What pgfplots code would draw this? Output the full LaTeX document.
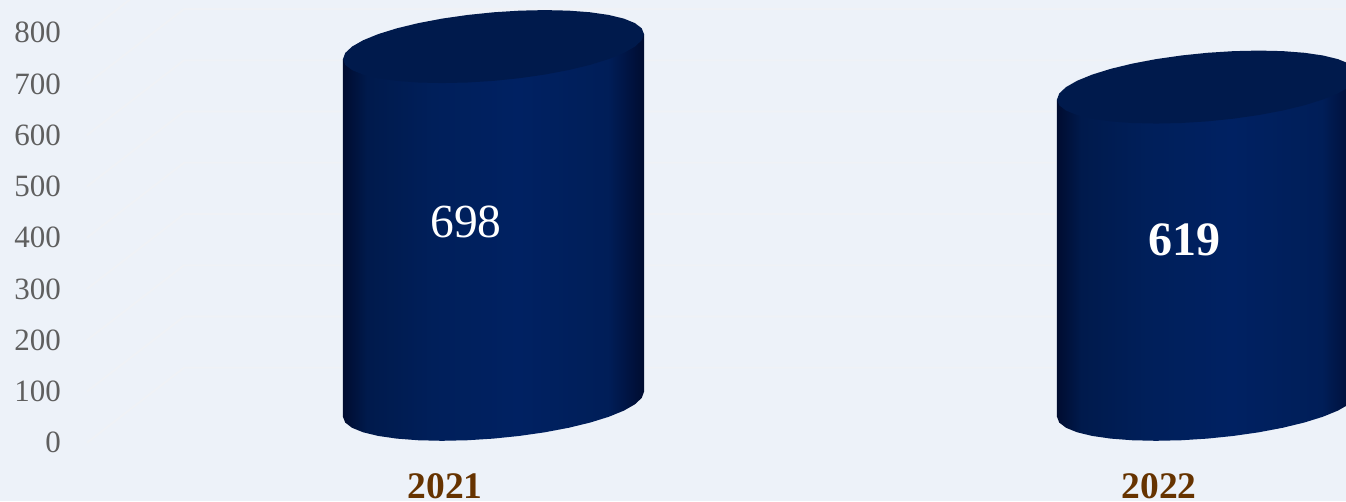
\documentclass[border=0pt]{standalone}
\usepackage{fontspec}
\setmainfont{Liberation Serif}
\usepackage{pgfplots}
\usepackage{pgfplotstable}
\pgfplotsset{compat=1.18}

\definecolor{bg}{HTML}{EDF2F9}
\definecolor{gridc}{HTML}{F0F2F6}
\definecolor{tickc}{HTML}{5F5F5F}
\definecolor{yearc}{HTML}{663300}
\definecolor{capc}{HTML}{001A4C}
\definecolor{s0}{HTML}{000C30}
\definecolor{s1}{HTML}{001A4C}
\definecolor{s2}{HTML}{001F5A}
\definecolor{s3}{HTML}{002162}
\definecolor{s4}{HTML}{001E58}
\definecolor{s5}{HTML}{00123E}

% 25bp..75bp span the width of the shaded path
\pgfdeclarehorizontalshading{cyl}{100bp}{
  color(0bp)=(s0); color(25bp)=(s0); color(29bp)=(s1); color(40bp)=(s2);
  color(54bp)=(s3); color(69bp)=(s4); color(73bp)=(s5); color(75bp)=(s0);
  color(100bp)=(s0)}

% side of a cylinder: lower half of the base rim, then the top chord
% dy is relative to the left corner, h=1 for points at the top
\pgfplotstableread{
dx dy h
-0.1429 0 0
-0.1397 -11.24 0
-0.1302 -21.41 0
-0.1147 -30.18 0
-0.0936 -37.29 0
-0.0676 -42.53 0
-0.0375 -45.74 0
-0.0042 -46.81 0
0.0313 -45.72 0
0.0679 -42.50 0
0.1045 -37.24 0
0.1400 -30.13 0
0.1733 -21.34 0
0.2034 -11.17 0
0.2294 0.09 0
0.2505 12.08 0
0.2660 24.45 0
0.2755 36.82 0
0.2787 48.80 0
0.2787 48.80 1
-0.1429 0 1
-0.1429 0 0
}\sidetable

% top cap
\pgfplotstableread{
dx dy
0.2787 48.80
0.2755 60.04
0.2660 70.21
0.2505 78.98
0.2294 86.09
0.2034 91.33
0.1733 94.54
0.1400 95.61
0.1045 94.52
0.0679 91.30
0.0313 86.04
-0.0042 78.93
-0.0375 70.14
-0.0676 59.97
-0.0936 48.71
-0.1147 36.72
-0.1302 24.35
-0.1397 11.98
-0.1429 0
-0.1397 -11.24
-0.1302 -21.41
-0.1147 -30.18
-0.0936 -37.29
-0.0676 -42.53
-0.0375 -45.74
-0.0042 -46.81
0.0313 -45.72
0.0679 -42.50
0.1045 -37.24
0.1400 -30.13
0.1733 -21.34
0.2034 -11.17
0.2294 0.09
0.2505 12.08
0.2660 24.45
0.2755 36.82
0.2787 48.80
}\captable

\begin{document}
\begin{tikzpicture}[x=1pt,y=1pt]
\path[use as bounding box] (0,0) rectangle (1346,501);
\fill[bg] (0,0) rectangle (1346,501);
\begin{axis}[
    at={(0pt,0pt)},
    anchor=south west,
    scale only axis,
    width=1346pt,
    height=501pt,
    xmin=-0.62325, xmax=1.26190,
    ymin=-113.76, ymax=863.8,
    axis line style={draw=none},
    tick style={draw=none},
    major tick length=0pt,
    no markers,
    xtick={0,1},
    xticklabels={2021,2022},
    ytick={0,100,200,300,400,500,600,700,800},
    /pgf/number format/assume math mode=true,
    yticklabel style={anchor=east, xshift=61pt, inner sep=0pt, text=tickc,
        font=\fontsize{31}{36}\selectfont},
    xticklabel style={anchor=base, yshift=3pt, inner sep=0pt, text=yearc,
        font=\fontsize{37.5}{42}\selectfont\bfseries},
]
% faint walls of the 3D frame
\addplot[gridc, line width=1.8pt] coordinates {(-0.5014,0) (-0.3655,146.3) (1.2619,146.3)};
\addplot[gridc, line width=1.8pt] coordinates {(-0.5014,100) (-0.3655,246.3) (1.2619,246.3)};
\addplot[gridc, line width=1.8pt] coordinates {(-0.5014,200) (-0.3655,346.3) (1.2619,346.3)};
\addplot[gridc, line width=1.8pt] coordinates {(-0.5014,300) (-0.3655,446.3) (1.2619,446.3)};
\addplot[gridc, line width=1.8pt] coordinates {(-0.5014,400) (-0.3655,546.3) (1.2619,546.3)};
\addplot[gridc, line width=1.8pt] coordinates {(-0.5014,500) (-0.3655,646.3) (1.2619,646.3)};
\addplot[gridc, line width=1.8pt] coordinates {(-0.5014,600) (-0.3655,746.3) (1.2619,746.3)};
\addplot[gridc, line width=1.8pt] coordinates {(-0.5014,700) (-0.3655,846.3) (1.2619,846.3)};
\addplot[gridc, line width=1.8pt] coordinates {(-0.5014,800) (-0.3655,946.3) (1.2619,946.3)};

% 2021: 698
\addplot[draw=none, shade, shading=cyl] table[x expr=\thisrow{dx}+0, y expr=\thisrow{dy}+50.5+\thisrow{h}*698] {\sidetable};
\addplot[draw=none, fill=capc] table[x expr=\thisrow{dx}+0, y expr=\thisrow{dy}+50.5+698] {\captable};
% 2022: 619
\addplot[draw=none, shade, shading=cyl] table[x expr=\thisrow{dx}+1, y expr=\thisrow{dy}+50.5+\thisrow{h}*619] {\sidetable};
\addplot[draw=none, fill=capc] table[x expr=\thisrow{dx}+1, y expr=\thisrow{dy}+50.5+619] {\captable};

\node[text=white, font=\fontsize{47.5}{52}\selectfont] at (axis cs:0.0295,430.6) {698};
\node[text=white, font=\fontsize{48}{52}\selectfont\bfseries] at (axis cs:1.035,395.5) {619};
\end{axis}
\end{tikzpicture}
\end{document}
